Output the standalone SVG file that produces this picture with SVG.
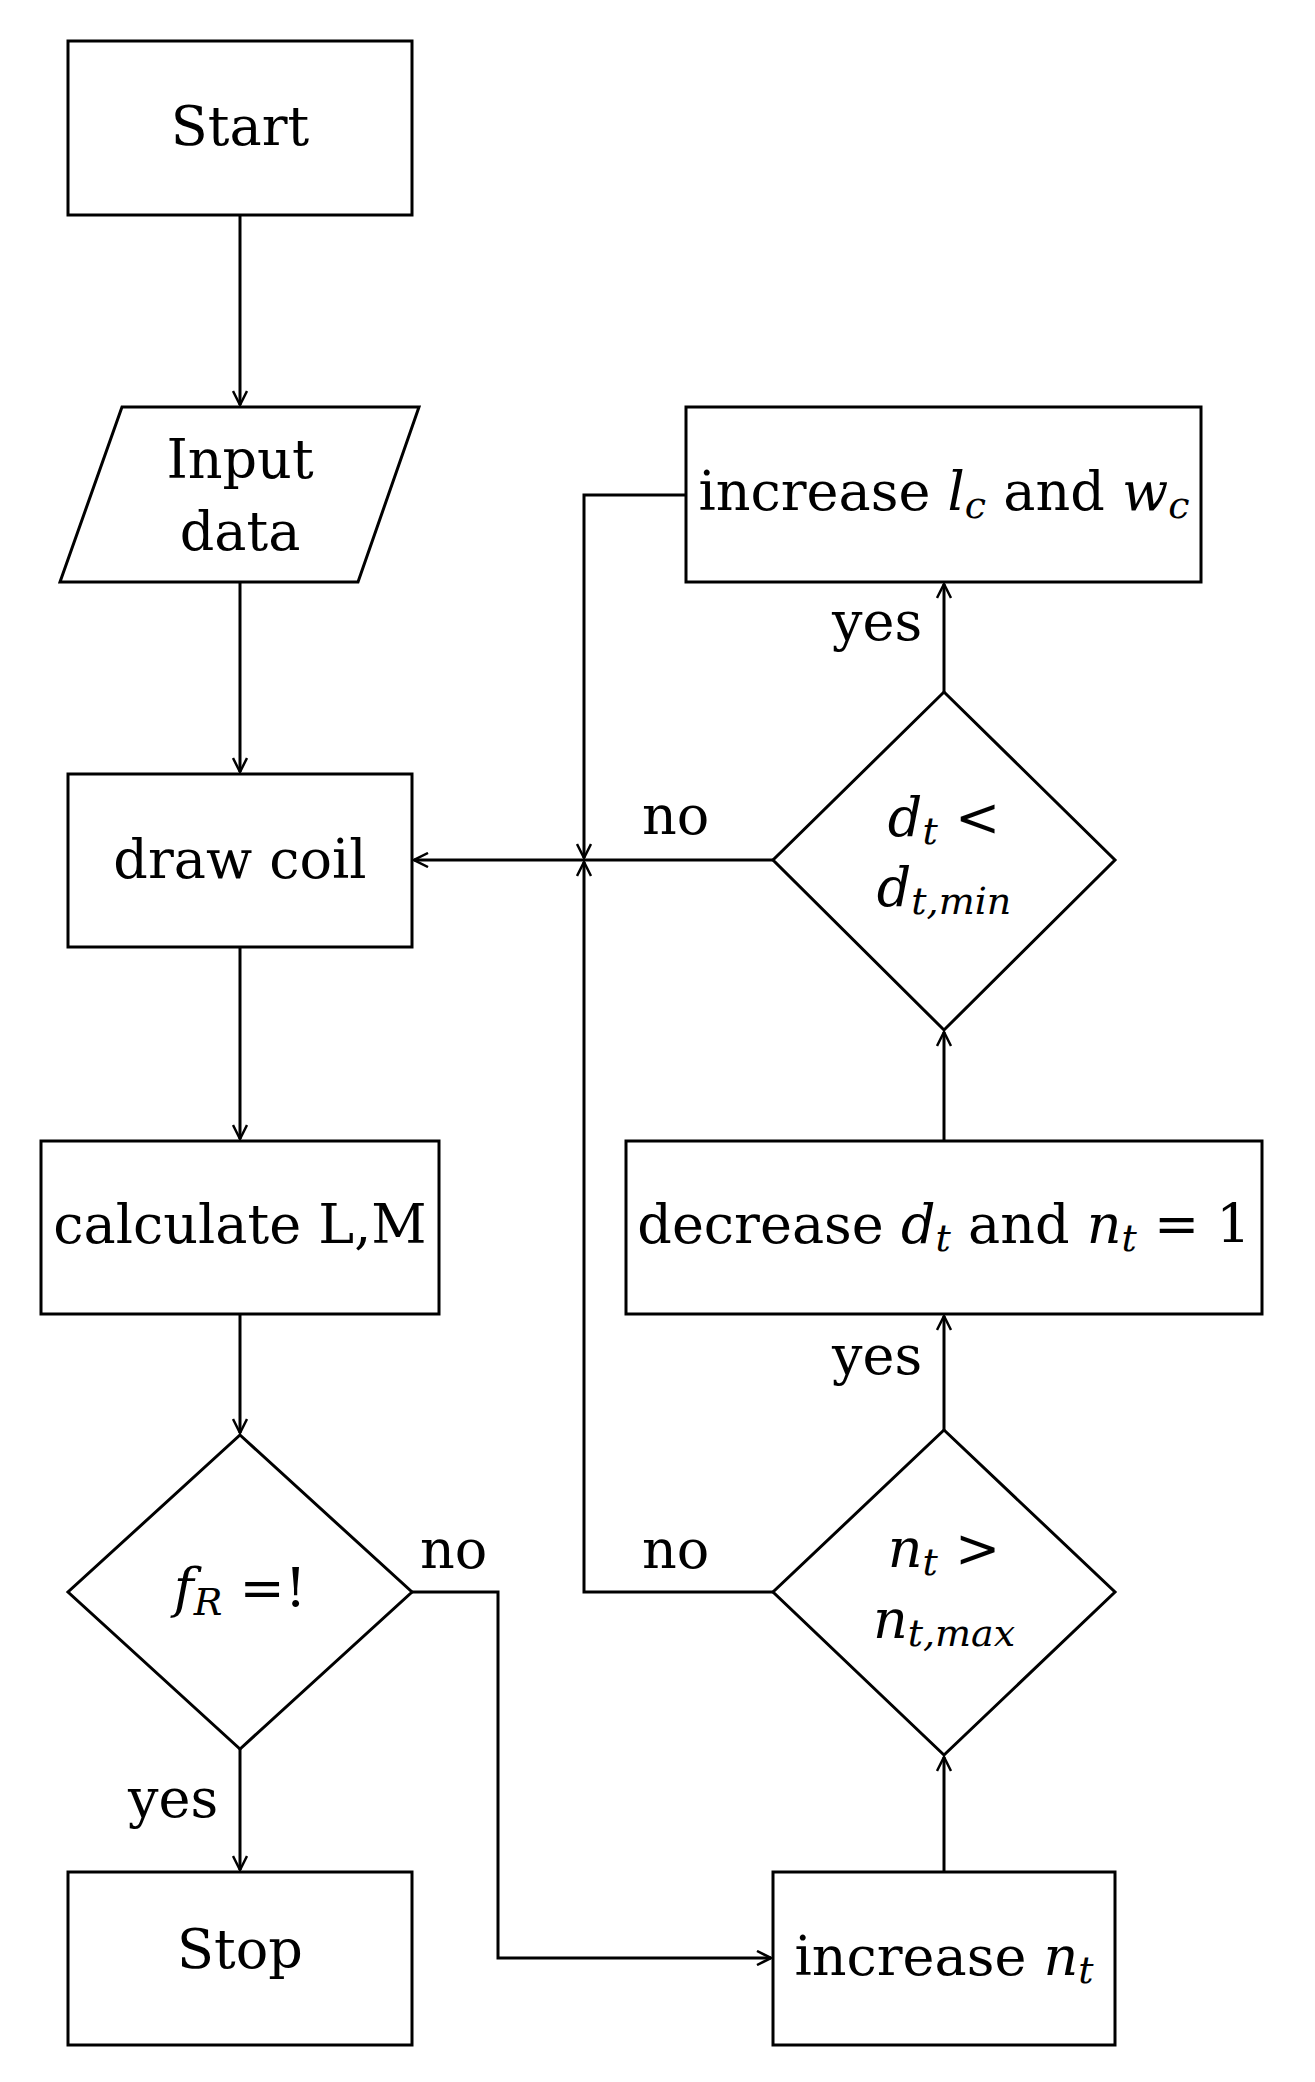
<svg xmlns="http://www.w3.org/2000/svg" width="1315" height="2082" viewBox="0 0 1315 2082">
<style>
.n{fill:#fff;stroke:#000;stroke-width:3}
.c{fill:none;stroke:#000;stroke-width:3}
.t{font-family:"DejaVu Serif","Liberation Serif",serif;font-size:54px;text-anchor:middle;fill:#000}
.l{font-family:"DejaVu Serif","Liberation Serif",serif;font-size:54px;fill:#000}
.i{font-style:italic}
</style>
<defs><marker id="a" viewBox="0 0 16 16" refX="15" refY="8" markerWidth="16" markerHeight="16" markerUnits="userSpaceOnUse" orient="auto"><path d="M1,1 L15,8 L1,15" fill="none" stroke="#000" stroke-width="2.5"/></marker></defs>
<rect width="1315" height="2082" fill="#fff"/>
<g id="connectors">
<path class="c" d="M240,215 V405" marker-end="url(#a)"/>
<path class="c" d="M240,582 V772" marker-end="url(#a)"/>
<path class="c" d="M240,947 V1139" marker-end="url(#a)"/>
<path class="c" d="M240,1314 V1433" marker-end="url(#a)"/>
<path class="c" d="M240,1749 V1870" marker-end="url(#a)"/>
<path class="c" d="M412,1592 H498 V1958 H771" marker-end="url(#a)"/>
<path class="c" d="M944,1872 V1757" marker-end="url(#a)"/>
<path class="c" d="M944,1430 V1316" marker-end="url(#a)"/>
<path class="c" d="M944,1141 V1032" marker-end="url(#a)"/>
<path class="c" d="M944,692 V584" marker-end="url(#a)"/>
<path class="c" d="M773,1592 H584 V862" marker-end="url(#a)"/>
<path class="c" d="M686,495 H584 V858" marker-end="url(#a)"/>
<path class="c" d="M773,860 H414" marker-end="url(#a)"/>
</g>
<g class="l">
<text x="642" y="834">no</text>
<text x="642" y="1568">no</text>
<text x="420" y="1568">no</text>
<text x="832" y="640">yes</text>
<text x="832" y="1374">yes</text>
<text x="128" y="1817">yes</text>
</g>
<g id="start"><rect class="n" x="68" y="41" width="344" height="174"/><text class="t" x="240" y="145">Start</text></g>
<g id="input"><polygon class="n" points="122,407 419,407 358,582 60,582"/><text class="t" x="240" y="478">Input</text><text class="t" x="240" y="550">data</text></g>
<g id="draw"><rect class="n" x="68" y="774" width="344" height="173"/><text class="t" x="240" y="878">draw coil</text></g>
<g id="calc"><rect class="n" x="41" y="1141" width="398" height="173"/><text class="t" x="240" y="1243">calculate L,M</text></g>
<g id="fr"><polygon class="n" points="240,1435 412,1592 240,1749 68,1592"/><text class="t" x="240" y="1607"><tspan class="i">f</tspan><tspan class="i" font-size="38" dy="8">R</tspan><tspan dy="-8"> =!</tspan></text></g>
<g id="stop"><rect class="n" x="68" y="1872" width="344" height="173"/><text class="t" x="240" y="1968">Stop</text></g>
<g id="inclc"><rect class="n" x="686" y="407" width="515" height="175"/><text class="t" x="944" y="510">increase <tspan class="i">l</tspan><tspan class="i" font-size="38" dy="8">c</tspan><tspan dy="-8"> and </tspan><tspan class="i">w</tspan><tspan class="i" font-size="38" dy="8">c</tspan></text></g>
<g id="dt"><polygon class="n" points="944,692 1115,860 944,1030 773,860"/><text class="t" x="944" y="836"><tspan class="i">d</tspan><tspan class="i" font-size="38" dy="8">t</tspan><tspan dy="-8"> &lt;</tspan></text><text class="t" x="944" y="906"><tspan class="i">d</tspan><tspan class="i" font-size="38" dy="8">t,min</tspan></text></g>
<g id="dec"><rect class="n" x="626" y="1141" width="636" height="173"/><text class="t" x="944" y="1243">decrease <tspan class="i">d</tspan><tspan class="i" font-size="38" dy="8">t</tspan><tspan dy="-8"> and </tspan><tspan class="i">n</tspan><tspan class="i" font-size="38" dy="8">t</tspan><tspan dy="-8"> = 1</tspan></text></g>
<g id="nt"><polygon class="n" points="944,1430 1115,1592 944,1755 773,1592"/><text class="t" x="944" y="1567"><tspan class="i">n</tspan><tspan class="i" font-size="38" dy="8">t</tspan><tspan dy="-8"> &gt;</tspan></text><text class="t" x="944" y="1638"><tspan class="i">n</tspan><tspan class="i" font-size="38" dy="8">t,max</tspan></text></g>
<g id="incnt"><rect class="n" x="773" y="1872" width="342" height="173"/><text class="t" x="944" y="1975">increase <tspan class="i">n</tspan><tspan class="i" font-size="38" dy="8">t</tspan></text></g>
</svg>
